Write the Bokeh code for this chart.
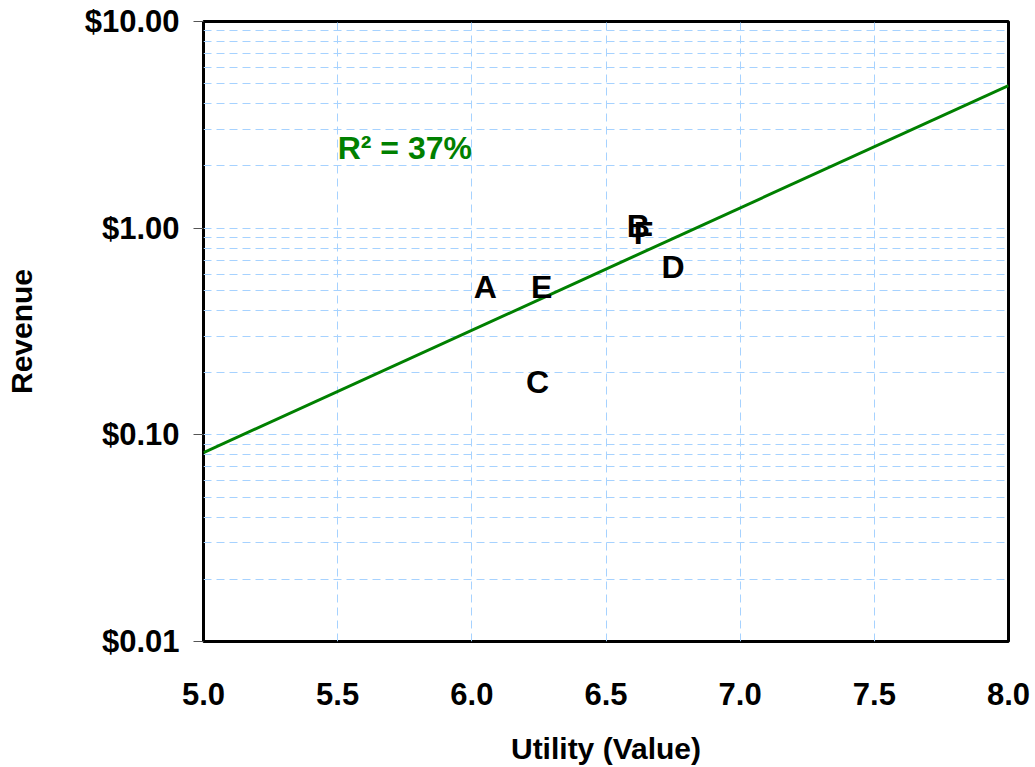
from bokeh.plotting import figure
from bokeh.models import FixedTicker, NumeralTickFormatter, Label, ColumnDataSource
from bokeh.core.properties import value
from bokeh.embed import file_html
from bokeh.resources import INLINE

# Data
labels = ["A", "B", "C", "D", "E", "F"]
utility = [6.05, 6.62, 6.245, 6.75, 6.26, 6.64]
revenue = [0.52, 1.02, 0.18, 0.65, 0.52, 0.945]

fit_x = [5.0, 8.0]
fit_y = [0.082, 4.9]
r2_text = "R\u00b2 = 37%"

x_ticks = [5.0, 5.5, 6.0, 6.5, 7.0, 7.5, 8.0]
y_ticks = [0.01, 0.1, 1.0, 10.0]
y_minor = [m * d for d in [0.01, 0.1, 1.0] for m in range(2, 10)]

FONT = "Liberation Sans"
GRID = "#a6d2ff"

p = figure(width=1035, height=767, x_range=(5.0, 8.0), y_range=(0.01, 10.0),
           y_axis_type="log", output_backend="svg", toolbar_location=None,
           min_border_left=203, min_border_right=27, min_border_top=21,
           min_border_bottom=125, background_fill_color="white",
           border_fill_color="white")

p.outline_line_color = "black"
p.outline_line_width = 3

# grids
p.xaxis.ticker = FixedTicker(ticks=x_ticks)
p.yaxis.ticker = FixedTicker(ticks=y_ticks, minor_ticks=y_minor)
p.xgrid.ticker = FixedTicker(ticks=x_ticks)
p.ygrid.ticker = FixedTicker(ticks=y_ticks, minor_ticks=y_minor)
for g in (p.xgrid, p.ygrid):
    g.grid_line_color = GRID
    g.grid_line_dash = "8 5"
    g.grid_line_width = 1
p.ygrid.minor_grid_line_color = GRID
p.ygrid.minor_grid_line_dash = "8 5"

# axes
p.xaxis.formatter = NumeralTickFormatter(format="0.0")
p.yaxis.formatter = NumeralTickFormatter(format="$0.00")
for ax in (p.xaxis[0], p.yaxis[0]):
    ax.axis_line_color = None
    ax.major_label_text_font = FONT
    ax.major_label_text_font_style = "bold"
    ax.major_label_text_font_size = "31px"
    ax.major_label_text_color = "black"
    ax.axis_label_text_font = FONT
    ax.axis_label_text_font_style = "bold"
    ax.axis_label_text_font_size = "30px"
    ax.axis_label_text_color = "black"
    ax.minor_tick_line_color = None

p.xaxis.major_tick_line_color = None
p.xaxis.major_label_standoff = 35
p.xaxis.axis_label = "Utility (Value)"
p.xaxis.axis_label_standoff = 24

p.yaxis.major_tick_out = 10
p.yaxis.major_tick_in = 0
p.yaxis.major_tick_line_color = "#555555"
p.yaxis.major_tick_line_width = 1
p.yaxis.major_label_standoff = 14
p.yaxis.axis_label = "Revenue"
p.yaxis.axis_label_standoff = 44

# trend line
p.line(fit_x, fit_y, line_color="#008000", line_width=3)

# point labels
src = ColumnDataSource(dict(x=utility, y=revenue, t=labels))
p.text(x="x", y="y", text="t", source=src, text_font=value(FONT),
       text_font_style="bold", text_font_size="32px", text_color="black",
       text_align="center", text_baseline="middle")

p.add_layout(Label(x=5.5, y=2.45, text=r2_text, text_font=FONT,
                   text_font_style="bold", text_font_size="32px",
                   text_color="#008000", text_align="left",
                   text_baseline="alphabetic"))

open("out.html", "w").write(file_html(p, INLINE))
